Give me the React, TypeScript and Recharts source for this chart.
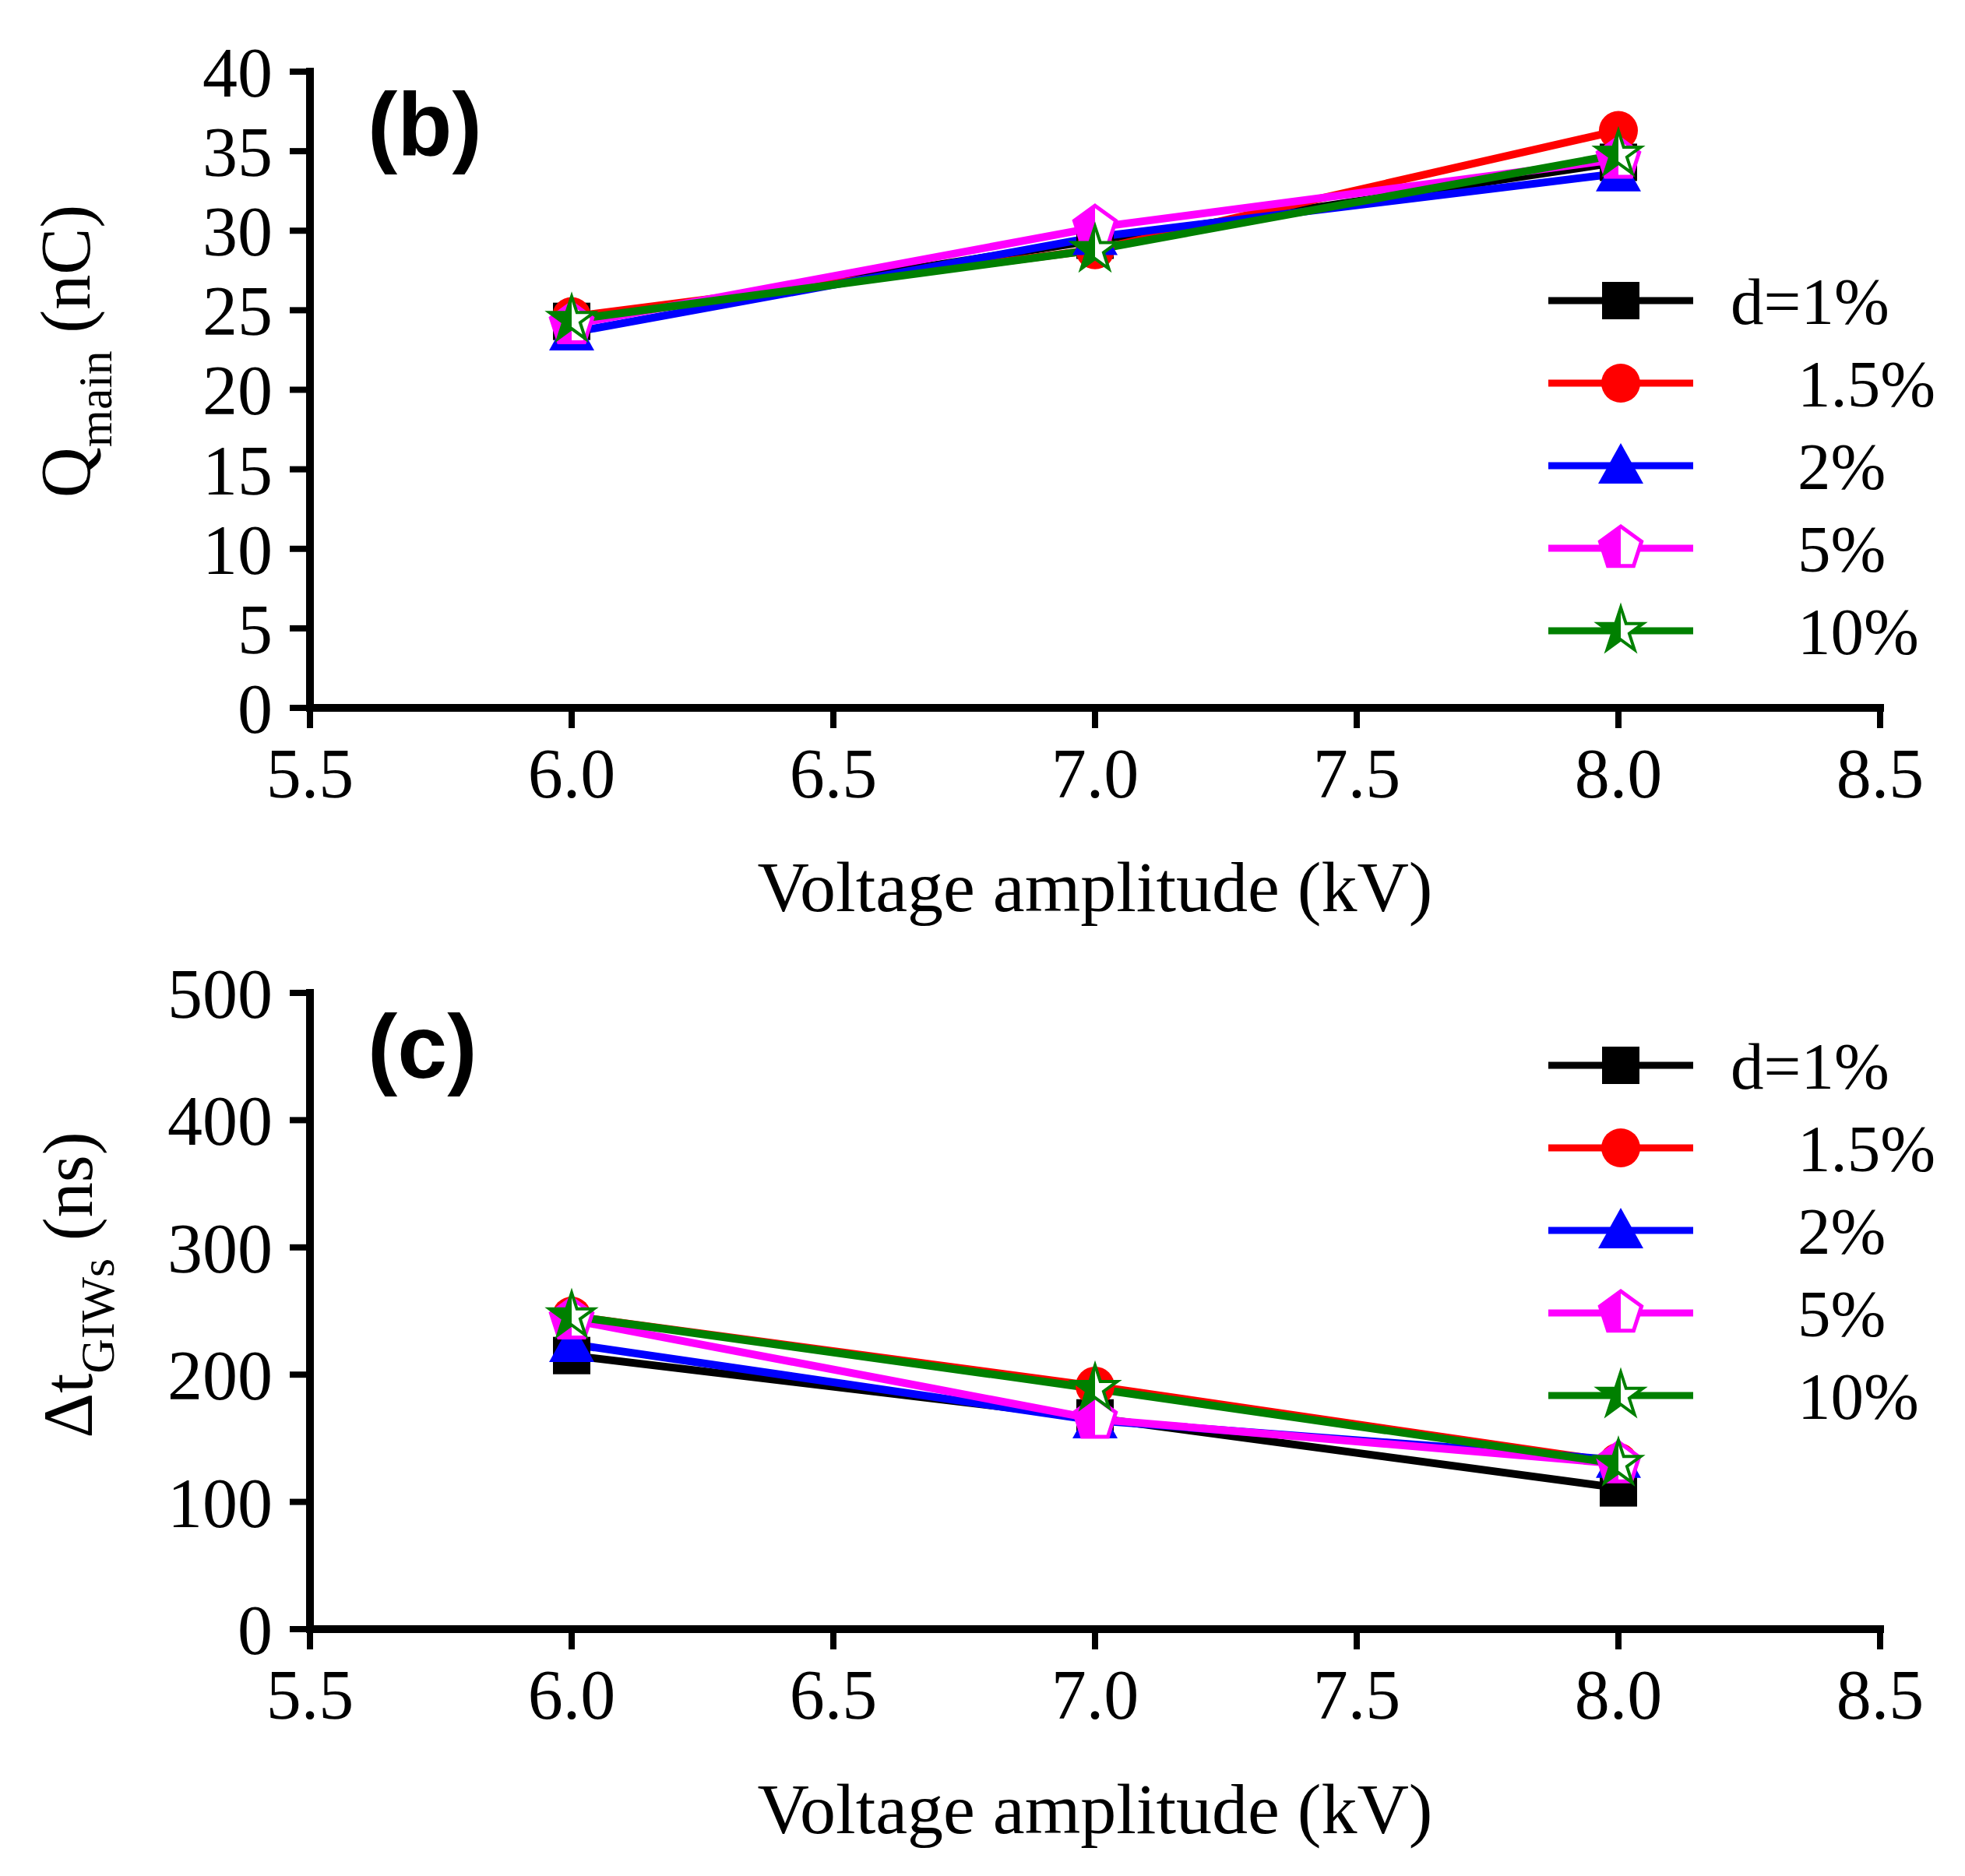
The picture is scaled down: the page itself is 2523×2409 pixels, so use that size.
import { LineChart, Line, XAxis, YAxis } from 'recharts';

const voltages = [6.0, 7.0, 8.0];

// Q_main (nC)
const qD1 = [24.3, 29.4, 34.3];
const qD15 = [24.6, 28.8, 36.3];
const qD2 = [23.6, 29.6, 33.6];
const qD5 = [24.1, 30.2, 34.5];
const qD10 = [24.4, 28.8, 34.8];

// Δt GIWs (ns)
const tD1 = [215, 166, 111];
const tD15 = [246, 191, 131];
const tD2 = [224, 164, 133];
const tD5 = [243, 165, 130];
const tD10 = [246, 189, 130];

const xTicks = [5.5, 6.0, 6.5, 7.0, 7.5, 8.0, 8.5];
const xMinorTicks = [5.75, 6.25, 6.75, 7.25, 7.75, 8.25];
const qTicks = [0, 5, 10, 15, 20, 25, 30, 35, 40];
const qMinorTicks = [2.5, 7.5, 12.5, 17.5, 22.5, 27.5, 32.5, 37.5];
const tTicks = [0, 100, 200, 300, 400, 500];
const tMinorTicks = [50, 150, 250, 350, 450];

const seriesKeys = ['d1', 'd15', 'd2', 'd5', 'd10'];
const seriesLabels = ['d=1%', '1.5%', '2%', '5%', '10%'];
const seriesColors = ['#000000', '#FF0000', '#0000FF', '#FF00FF', '#008000'];
const seriesShapes = ['square', 'circle', 'triangle', 'pentagon', 'star'];

const qData = voltages.map((v, i) => ({
  v,
  d1: qD1[i],
  d15: qD15[i],
  d2: qD2[i],
  d5: qD5[i],
  d10: qD10[i],
}));

const tData = voltages.map((v, i) => ({
  v,
  d1: tD1[i],
  d15: tD15[i],
  d2: tD2[i],
  d5: tD5[i],
  d10: tD10[i],
}));

const FONT = '"Liberation Serif", "Times New Roman", serif';
const tickFont = { fill: '#000', fontSize: 90, fontFamily: FONT };
const axisLineStyle = { stroke: '#000', strokeWidth: 10, strokeLinecap: 'square' as const };
const tickLineStyle = { stroke: '#000', strokeWidth: 8 };

const pts = (arr: number[][]) => arr.map((p) => p.join(',')).join(' ');

function Marker({ shape, cx, cy, color }: { shape: string; cx: number; cy: number; color: string }) {
  if (cx == null || cy == null) return null;
  if (shape === 'square') {
    return <rect x={cx - 24} y={cy - 24} width={48} height={48} fill={color} />;
  }
  if (shape === 'circle') {
    return <circle cx={cx} cy={cy} r={25} fill={color} />;
  }
  if (shape === 'triangle') {
    return <polygon points={pts([[cx, cy - 29], [cx + 29, cy + 23], [cx - 29, cy + 23]])} fill={color} />;
  }
  if (shape === 'pentagon') {
    const R = 28;
    const d = Math.PI / 180;
    const full = [-90, -18, 54, 126, 198].map((a) => [cx + R * Math.cos(a * d), cy + R * Math.sin(a * d)]);
    const half = [
      [cx, cy - R],
      [cx - R * Math.cos(18 * d), cy - R * Math.sin(18 * d)],
      [cx - R * Math.cos(54 * d), cy + R * Math.sin(54 * d)],
      [cx, cy + R * Math.sin(54 * d)],
    ];
    return (
      <g>
        <polygon points={pts(full)} fill="#fff" stroke={color} strokeWidth={5} strokeLinejoin="miter" />
        <polygon points={pts(half)} fill={color} />
      </g>
    );
  }
  // star
  const R = 30;
  const r = R * 0.382;
  const d = Math.PI / 180;
  const full: number[][] = [];
  for (let k = 0; k < 10; k++) {
    const a = (-90 + k * 36) * d;
    const rad = k % 2 === 0 ? R : r;
    full.push([cx + rad * Math.cos(a), cy + rad * Math.sin(a)]);
  }
  const half = [
    [-90, R], [-126, r], [-162, R], [162, r], [126, R], [90, r],
  ].map(([a, rad]) => [cx + rad * Math.cos(a * d), cy + rad * Math.sin(a * d)]);
  return (
    <g>
      <polygon points={pts(full)} fill="#fff" stroke={color} strokeWidth={4} />
      <polygon points={pts(half)} fill={color} />
    </g>
  );
}

function Panel({ data, yDomain, yTicks, yMinor, top, height, plotTop, plotBottom }: any) {
  // minor axes (1px) sit against the plot, major axes (100px) just outside them
  const margin = { top: plotTop, right: 109, bottom: height - plotBottom - 101, left: 398 - 101 };
  return (
    <div style={{ position: 'absolute', left: 0, top, width: 2523, height }}>
      <LineChart width={2523} height={height} data={data} margin={margin}>
        <XAxis
          xAxisId="minor"
          type="number"
          domain={[5.5, 8.5]}
          ticks={xMinorTicks}
          allowDataOverflow
          height={1}
          axisLine={false}
          tick={false}
          tickLine={tickLineStyle}
          tickSize={13}
        />
        <YAxis
          yAxisId="minor"
          type="number"
          domain={yDomain}
          ticks={yMinor}
          allowDataOverflow
          width={1}
          axisLine={false}
          tick={false}
          tickLine={tickLineStyle}
          tickSize={13}
        />
        <XAxis
          dataKey="v"
          type="number"
          domain={[5.5, 8.5]}
          ticks={xTicks}
          interval={0}
          allowDataOverflow
          height={100}
          tickFormatter={(t: number) => t.toFixed(1)}
          axisLine={axisLineStyle}
          tickLine={tickLineStyle}
          tickSize={26}
          tickMargin={25}
          tick={tickFont}
        />
        <YAxis
          type="number"
          domain={yDomain}
          ticks={yTicks}
          interval={0}
          allowDataOverflow
          width={100}
          axisLine={axisLineStyle}
          tickLine={tickLineStyle}
          tickSize={26}
          tickMargin={22}
          tick={tickFont}
        />
        {seriesKeys.map((k, i) => (
          <Line
            key={k}
            type="linear"
            dataKey={k}
            stroke={seriesColors[i]}
            strokeWidth={10}
            isAnimationActive={false}
            activeDot={false}
            dot={(p: any) => (
              <Marker key={`${k}-${p.index}`} shape={seriesShapes[i]} cx={p.cx} cy={p.cy} color={seriesColors[i]} />
            )}
          />
        ))}
      </LineChart>
    </div>
  );
}

function Legend({ y0 }: { y0: number }) {
  return (
    <g>
      {seriesLabels.map((lab, i) => {
        const y = y0 + i * 106;
        return (
          <g key={lab}>
            <line x1={1988} x2={2174} y1={y} y2={y} stroke={seriesColors[i]} strokeWidth={9} />
            <Marker shape={seriesShapes[i]} cx={2081} cy={y} color={seriesColors[i]} />
            <text x={i === 0 ? 2222 : 2308} y={y + 30} fontSize={85} fontFamily={FONT} fill="#000">
              {lab}
            </text>
          </g>
        );
      })}
    </g>
  );
}

export default function App() {
  return (
    <div style={{ position: 'absolute', left: 0, top: 0, width: 2523, height: 2409, background: '#fff' }}>
      <Panel
        data={qData}
        yDomain={[0, 40]}
        yTicks={qTicks}
        yMinor={qMinorTicks}
        top={0}
        height={1200}
        plotTop={92}
        plotBottom={909}
      />
      <Panel
        data={tData}
        yDomain={[0, 500]}
        yTicks={tTicks}
        yMinor={tMinorTicks}
        top={1200}
        height={1209}
        plotTop={75}
        plotBottom={892}
      />
      <svg
        width={2523}
        height={2409}
        style={{ position: 'absolute', left: 0, top: 0, pointerEvents: 'none' }}
      >
        {/* panel letters */}
        <text x={472} y={200} fontSize={115} fontWeight="bold" fontFamily='"Liberation Sans", Arial, sans-serif'>
          (b)
        </text>
        <text x={472} y={1384} fontSize={115} fontWeight="bold" fontFamily='"Liberation Sans", Arial, sans-serif'>
          (c)
        </text>

        {/* x titles */}
        <text x={1406} y={1170} textAnchor="middle" fontSize={92} fontFamily={FONT}>
          Voltage amplitude (kV)
        </text>
        <text x={1406} y={2354} textAnchor="middle" fontSize={92} fontFamily={FONT}>
          Voltage amplitude (kV)
        </text>

        {/* y titles */}
        <text transform="translate(115,451) rotate(-90)" textAnchor="middle" fontSize={90} fontFamily={FONT}>
          Q<tspan fontSize={62} dy={28}>main</tspan>
          <tspan dy={-28}> (nC)</tspan>
        </text>
        <text transform="translate(118,1650) rotate(-90)" textAnchor="middle" fontSize={90} fontFamily={FONT}>
          Δt<tspan fontSize={62} dy={28}>GIWs</tspan>
          <tspan dy={-28}> (ns)</tspan>
        </text>

        <Legend y0={386} />
        <Legend y0={1368} />
      </svg>
    </div>
  );
}
